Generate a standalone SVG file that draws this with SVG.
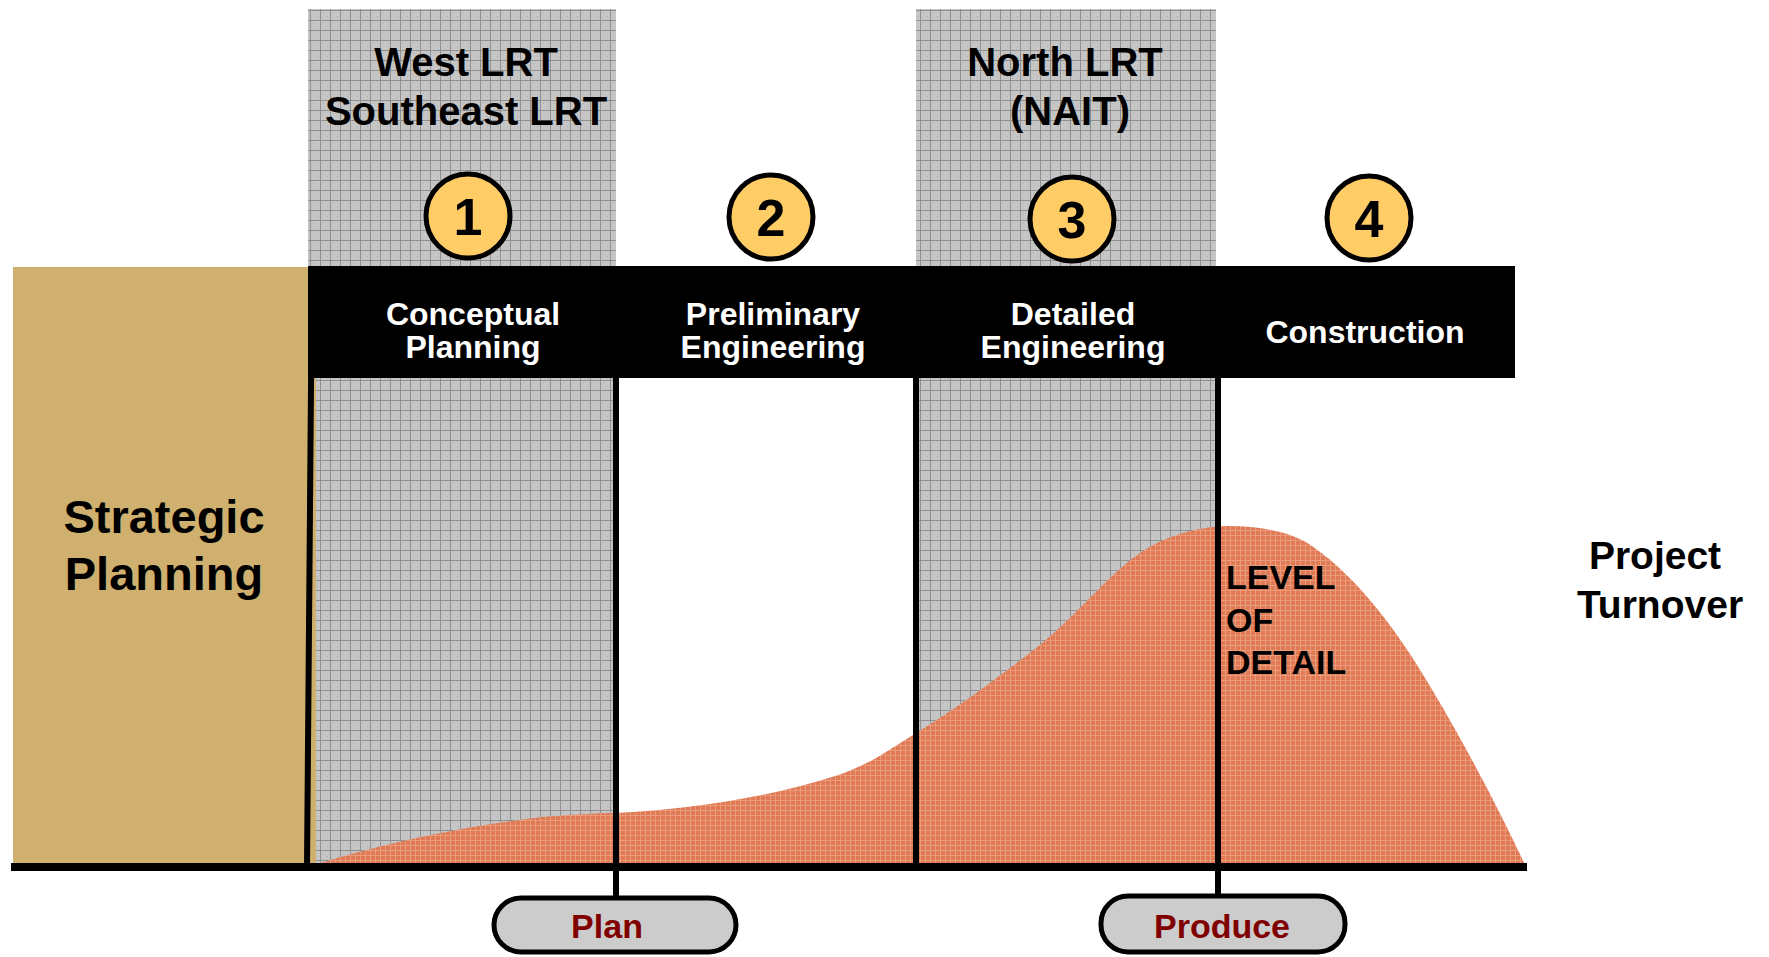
<svg xmlns="http://www.w3.org/2000/svg" width="1769" height="957" viewBox="0 0 1769 957">
  <defs>
    <pattern id="grayGrid" width="10" height="10" patternUnits="userSpaceOnUse">
      <rect width="10" height="10" fill="#c6c6c6"/>
      <path d="M0 0.5H10M0.5 0V10" stroke="#8f8f8f" stroke-width="1" fill="none"/>
      <rect x="3" y="3" width="1" height="1" fill="#b0b0b0"/>
      <rect x="7" y="6" width="1" height="1" fill="#b0b0b0"/>
    </pattern>
    <pattern id="orangeGrid" width="5" height="5" patternUnits="userSpaceOnUse">
      <rect width="5" height="5" fill="#df7a54"/>
      <path d="M0 0.5H5M0.5 0V5" stroke="#eb9c7c" stroke-width="1" fill="none"/>
    </pattern>
  </defs>
  <style>
    .t { font-family: "Liberation Sans", Arial, sans-serif; font-weight: bold; text-anchor: middle; }
    .s { text-anchor: start; }
    .dark { fill: #000000; }
    .white { fill: #ffffff; font-size: 32px; }
    .num { fill: #000000; font-size: 52px; }
    .circ { fill: #ffcc66; stroke: #000000; stroke-width: 5; }
    .pill { fill: #cccccc; stroke: #000000; stroke-width: 5; }
    .pilltxt { fill: #800000; font-size: 34px; }
    .conn { stroke: #000000; stroke-width: 6; fill: none; }
  </style>

  <g id="band-west">
    <rect x="308" y="9" width="308" height="858" fill="url(#grayGrid)"/>
    <text class="t dark" x="466" y="76" font-size="40">West LRT</text>
    <text class="t dark" x="466" y="125" font-size="40">Southeast LRT</text>
  </g>
  <g id="band-north">
    <rect x="916" y="9" width="300" height="858" fill="url(#grayGrid)"/>
    <text class="t dark" x="1065" y="76" font-size="40">North LRT</text>
    <text class="t dark" x="1070" y="125" font-size="40">(NAIT)</text>
  </g>

  <g id="strategic-planning">
    <rect x="13" y="267" width="303" height="600" fill="#cfb06e"/>
    <text class="t dark" x="164" y="533" font-size="47">Strategic</text>
    <text class="t dark" x="164" y="590" font-size="47">Planning</text>
  </g>

  <g id="level-of-detail">
    <path d="M317 864 C380 845 450 828 542 817 C580 814 600 813 616 813 C680 810 760 800 835 776 C870 765 895 746 916 733 C960 706 1000 676 1040 645 C1075 616 1100 585 1128 562 C1160 536 1195 527 1228 526 C1260 526 1290 532 1309 544 C1345 568 1380 608 1410 654 C1445 708 1490 790 1527 869 Z" fill="url(#orangeGrid)"/>
    <text class="t dark s" x="1226" y="589" font-size="34">LEVEL</text>
    <text class="t dark s" x="1226" y="632" font-size="34">OF</text>
    <text class="t dark s" x="1226" y="674" font-size="34">DETAIL</text>
  </g>

  <g id="phase-bar">
    <rect x="308" y="266" width="1207" height="112" fill="#000000"/>
  </g>
  <g id="phase-1">
    <text class="t white" x="473" y="325">Conceptual</text>
    <text class="t white" x="473" y="358">Planning</text>
  </g>
  <g id="phase-2">
    <text class="t white" x="773" y="325">Preliminary</text>
    <text class="t white" x="773" y="358">Engineering</text>
  </g>
  <g id="phase-3">
    <text class="t white" x="1073" y="325">Detailed</text>
    <text class="t white" x="1073" y="358">Engineering</text>
  </g>
  <g id="phase-4">
    <text class="t white" x="1365" y="343">Construction</text>
  </g>

  <g id="connectors">
    <line class="conn" x1="312" y1="267" x2="307" y2="868"/>
    <line class="conn" x1="616" y1="378" x2="616" y2="898"/>
    <line class="conn" x1="916" y1="378" x2="916" y2="867"/>
    <line class="conn" x1="1218" y1="378" x2="1218" y2="896"/>
    <line x1="11" y1="867" x2="1527" y2="867" stroke="#000000" stroke-width="8"/>
  </g>

  <g id="step-1">
    <circle class="circ" cx="468" cy="216" r="42"/>
    <text class="t num" x="468" y="235">1</text>
  </g>
  <g id="step-2">
    <circle class="circ" cx="771" cy="217" r="42"/>
    <text class="t num" x="771" y="236">2</text>
  </g>
  <g id="step-3">
    <circle class="circ" cx="1072" cy="219" r="42"/>
    <text class="t num" x="1072" y="238">3</text>
  </g>
  <g id="step-4">
    <circle class="circ" cx="1369" cy="218" r="42"/>
    <text class="t num" x="1369" y="237">4</text>
  </g>

  <g id="plan">
    <rect class="pill" x="494" y="898" width="242" height="54" rx="27"/>
    <text class="t pilltxt" x="607" y="938">Plan</text>
  </g>
  <g id="produce">
    <rect class="pill" x="1101" y="896" width="244" height="56" rx="27"/>
    <text class="t pilltxt" x="1222" y="938">Produce</text>
  </g>

  <g id="project-turnover">
    <text class="t dark" x="1655" y="569" font-size="39">Project</text>
    <text class="t dark" x="1660" y="618" font-size="39">Turnover</text>
  </g>
</svg>
